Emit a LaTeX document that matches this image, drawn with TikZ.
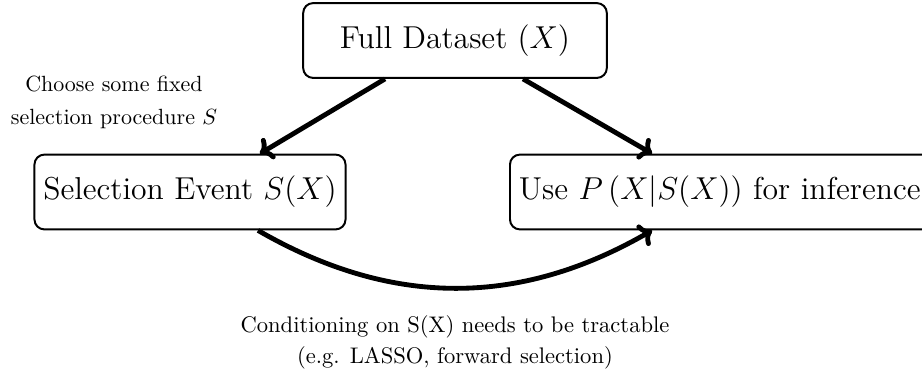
\documentclass[tikz,border=0pt]{standalone}
\usetikzlibrary{arrows.meta}
\begin{document}
\begin{tikzpicture}[x=0.4545pt,y=0.4545pt,
  box/.style={draw, line width=0.9pt, rounded corners=4.5pt, font=\Large,
    minimum height=34pt, inner xsep=4pt},
  flow/.style={line width=2.2pt, -{To[length=5.5pt,width=11pt]}},
  note/.style={font=\normalsize, align=center}]
\useasboundingbox (0,0) rectangle (922,-370);
\node[box, minimum width=138pt] (full) at (455,-40.5) {Full Dataset $(X)$};
\node[box] (sel) at (190,-192) {Selection Event $S(X)$};
\node[box, anchor=west, text width=192pt, align=left] (use) at (509,-192) {Use $P\left(X|S(X)\right)$ for inference};
\node[note] (lbl1) at (114,-102) {Choose some fixed\\[3pt] selection procedure $S$};
\node[note, font={\fontsize{10.25}{12.6}\selectfont}] (lbl2) at (455,-342) {Conditioning on S(X) needs to be tractable\\[1.5pt](e.g. LASSO, forward selection)};
\draw[flow] ([xshift=-31.8pt]full.south) -- ([xshift=31.8pt]sel.north);
\draw[flow] ([xshift=30.9pt]full.south) -- ([xshift=65pt]use.north west);
\draw[flow] ([xshift=30.9pt]sel.south) to[bend right=30] ([xshift=65pt]use.south west);
\end{tikzpicture}
\end{document}
